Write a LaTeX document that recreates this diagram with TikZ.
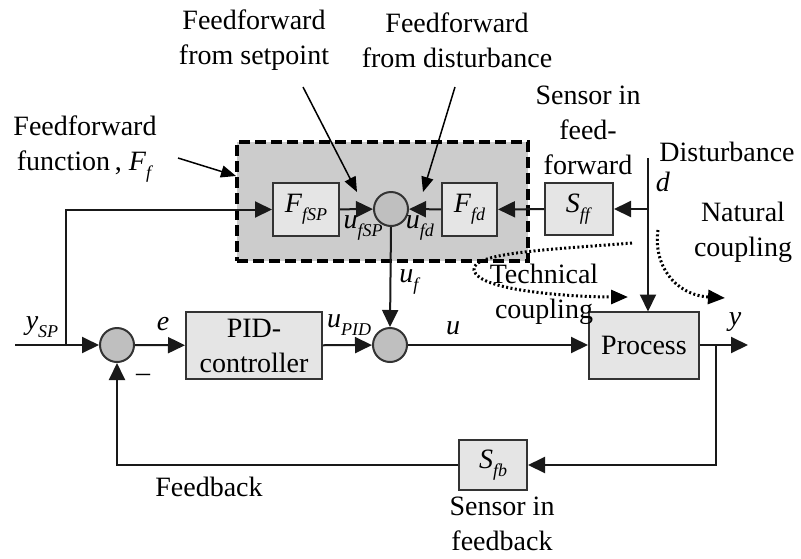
\documentclass[tikz,border=0pt]{standalone}
\usepackage{fontspec}
\setmainfont{Liberation Serif}
\usetikzlibrary{arrows.meta}
\newcommand\sublbl[2]{\textit{#1}\raisebox{-0.28em}{\fontsize{18}{18}\selectfont\textit{#2}}}
\begin{document}
\begin{tikzpicture}[x=1pt,y=-1pt,
  txt/.style={font=\fontsize{28}{35}\selectfont, align=center, inner sep=0pt},
  blk/.style={draw=black!80, fill=black!10, line width=2pt, inner sep=0pt,
    font=\fontsize{28}{35}\selectfont, align=center},
  sumc/.style={circle, draw=black!80, fill=black!25, line width=2pt, minimum size=34pt, inner sep=0pt},
  region/.style={draw=black, fill=black!20, line width=3.2pt, dash pattern=on 11pt off 5pt, inner sep=0pt},
  wire/.style={draw=black!90, line width=2pt},
  sig/.style={wire, -{Triangle[length=17pt,width=16pt]}},
  note/.style={draw=black, line width=1.5pt, -{Triangle[length=15pt,width=12pt]}},
  coup/.style={draw=black, line width=3pt, dash pattern=on 2pt off 2.4pt, line cap=butt,
    -{Triangle[length=17pt,width=14pt]}}
]
\useasboundingbox (0,0) rectangle (801,558);

% feedforward region
\node[region, minimum width=291pt, minimum height=119pt] (ffreg) at (382.5,201.5) {};

% blocks
\node[blk, minimum width=66pt, minimum height=53pt] (ffsp) at (306,209.5) {\sublbl{F}{fSP}};
\node[sumc] (sumf) at (391,209) {};
\node[blk, minimum width=55pt, minimum height=53pt] (ffd) at (469.5,209.5) {\sublbl{F}{fd}};
\node[blk, minimum width=68pt, minimum height=52pt] (sff) at (579,209) {\sublbl{S}{ff}};
\node[sumc] (sum1) at (117,345) {};
\node[blk, minimum width=136pt, minimum height=67pt] (pid) at (254,345.5) {PID-\\controller};
\node[sumc] (sum2) at (390,345) {};
\node[blk, minimum width=110pt, minimum height=67pt] (proc) at (644,345) {Process};
\node[blk, minimum width=68pt, minimum height=50pt] (sfb) at (493,465) {\sublbl{S}{fb}};

% free ends and branch points
\coordinate (yin) at (15,345);
\coordinate (br1) at (66,345);
\coordinate (yout) at (748,345);
\coordinate (br2) at (716,345);
\coordinate (dtop) at (648,158);
\coordinate (br3) at (648,209);
\coordinate (ptop) at (648,311.5);

% main loop
\draw[sig] (yin) -- (sum1);
\draw[sig] (br1) |- (ffsp.west);
\draw[sig] (sum1) -- (pid);
\draw[sig] (pid) -- (sum2);
\draw[sig] (sum2) -- (proc);
\draw[sig] (proc.east) -- (yout);
\draw[sig] (br2) |- (sfb.east);
\draw[sig] (sfb.west) -| (sum1.south);

% feedforward paths
\draw[sig] (ffsp) -- (sumf);
\draw[sig] (ffd) -- (sumf);
\draw[sig] (sumf.south) -- (sum2.north);
\draw[sig] (dtop) -- (ptop);
\draw[sig] (br3) -- (sff.east);
\draw[sig] (sff) -- (ffd);

% signal labels
\node[txt] (lysp) at (42,327) {\sublbl{y}{SP}};
\node[txt] (le) at (163,324) {\textit{e}};
\node[txt] (lupid) at (349,325) {\sublbl{u}{PID}};
\node[txt] (lu) at (453,328) {\textit{u}};
\node[txt] (ly) at (735,322) {\textit{y}};
\node[txt] (luf) at (410,282) {\sublbl{u}{f}};
\node[txt] (lufsp) at (363,228) {\sublbl{u}{fSP}};
\node[txt] (lufd) at (420,228) {\sublbl{u}{fd}};
\node[txt] (lminus) at (143,378) {–};
\node[txt] (ld) at (663,182) {\textit{d}};

% annotations
\node[txt] (tsp) at (254,40) {Feedforward\\from setpoint};
\node[txt] (tdist) at (457,40) {Feedforward\\from disturbance};
\node[txt] (tfunc) at (85,149) {Feedforward\\function\,, \sublbl{F}{f}};
\node[txt] (tsff) at (588,130) {Sensor in\\feed-\\forward};
\node[txt] (tdis) at (727,152) {Disturbance};
\node[txt] (tnat) at (743,232) {Natural\\coupling};
\node[txt] (ttech) at (544,294) {Technical\\coupling};
\node[txt] (tfb) at (209,487) {Feedback};
\node[txt] (tsfb) at (502,524) {Sensor in\\feedback};

\coordinate (a1s) at (303,87);
\coordinate (a1e) at (357,192);
\coordinate (a2s) at (455,87);
\coordinate (a2e) at (423,192);
\coordinate (a3s) at (178,158);
\coordinate (a3e) at (236,176);
\draw[note] (a1s) -- (a1e);
\draw[note] (a2s) -- (a2e);
\draw[note] (a3s) -- (a3e);

% coupling paths
\coordinate (c1s) at (632,243);
\coordinate (c1m) at (474,270);
\coordinate (c1e) at (628,297);
\draw[coup] (c1s) .. controls (560,249) and (470,252) .. (c1m)
  .. controls (478,292) and (580,297) .. (c1e);
\coordinate (c2s) at (658,230);
\coordinate (c2e) at (725,298);
\draw[coup] (c2s) .. controls (653,265) and (675,295) .. (c2e);
\end{tikzpicture}
\end{document}
